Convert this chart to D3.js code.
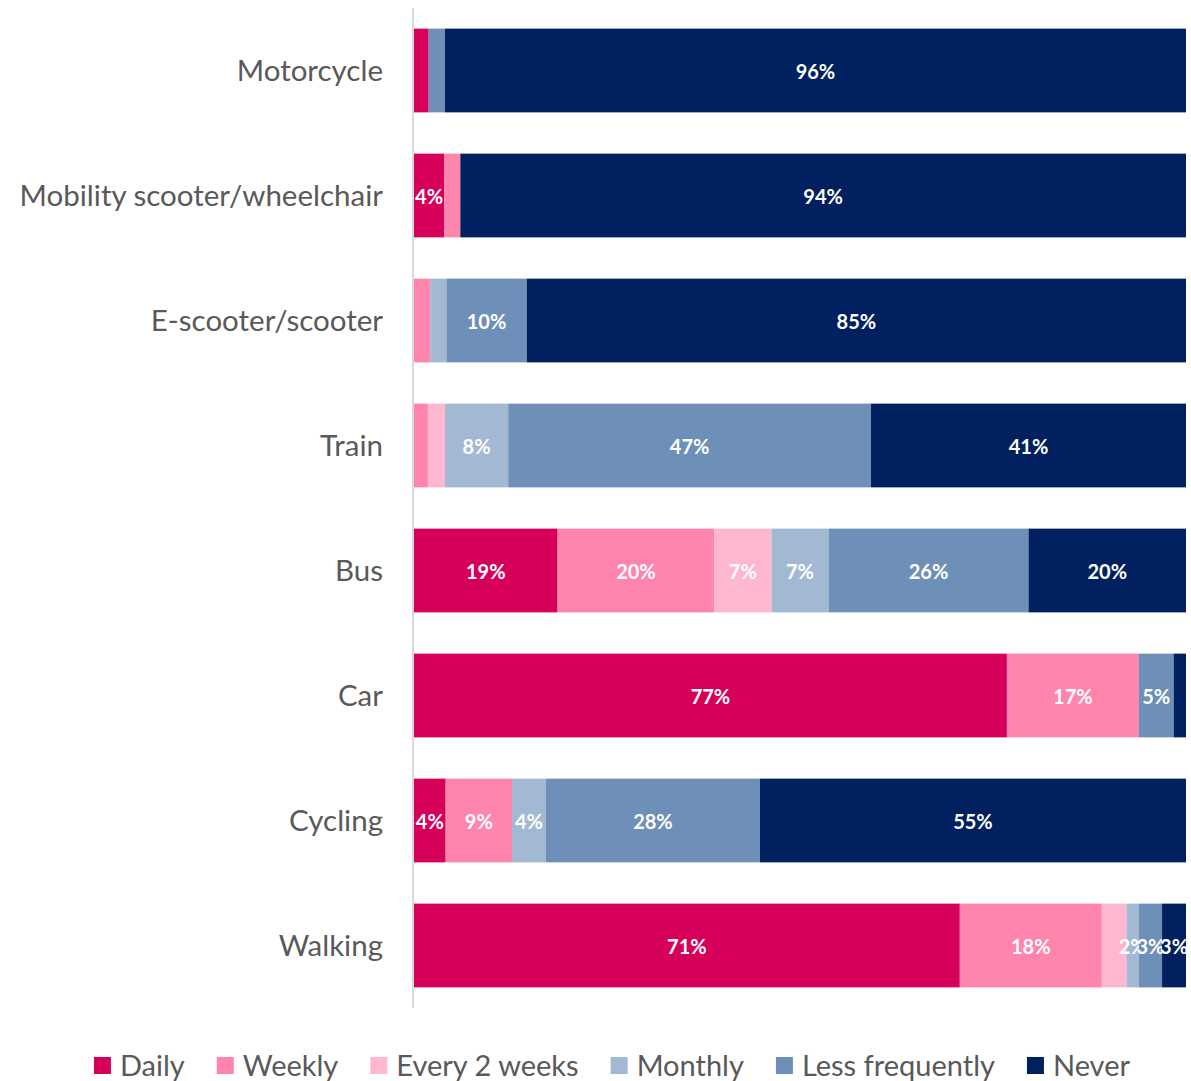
<!DOCTYPE html>
<html>
<head>
<meta charset="utf-8">
<script src="https://cdn.jsdelivr.net/npm/d3@7"></script>
<style>
  body { margin: 0; background: #fff; }
  svg { display: block; font-family: Lato, "Open Sans", sans-serif; }
</style>
</head>
<body>
<svg id="chart" width="1191" height="1081"></svg>
<script>
// transport use frequency, stacked to 100%

const modes = ['Motorcycle', 'Mobility scooter/wheelchair', 'E-scooter/scooter', 'Train', 'Bus', 'Car', 'Cycling', 'Walking'];
const seriesNames = ['Daily', 'Weekly', 'Every 2 weeks', 'Monthly', 'Less frequently', 'Never'];
const colors = ['#D6005A', '#FF85AD', '#FFB6CF', '#A3B8D3', '#6E8FB8', '#002060'];

// one array per series, in the order of modes
const daily     = [1.9, 3.9, 0,   0,    18.6, 76.8, 4.1,  70.7];
const weekly    = [0,   2.1, 2.1, 1.8,  20.3, 17.1, 8.6,  18.4];
const every2    = [0,   0,   0,   2.2,  7.4,  0,    0,    3.2];
const monthly   = [0,   0,   2.1, 8.2,  7.4,  0,    4.4,  1.6];
const lessFreq  = [2.1, 0,   10.4, 47.0, 25.9, 4.5, 27.7, 3.0];
const never     = [96.0, 94.0, 85.4, 40.8, 20.4, 1.6, 55.2, 3.1];

// which segments carry a data label (1 = shown)
const labelDaily   = [0, 1, 0, 0, 1, 1, 1, 1];
const labelWeekly  = [0, 0, 0, 0, 1, 1, 1, 1];
const labelEvery2  = [0, 0, 0, 0, 1, 0, 0, 0];
const labelMonthly = [0, 0, 0, 1, 1, 0, 1, 1];
const labelLess    = [0, 0, 1, 1, 1, 1, 1, 1];
const labelNever   = [1, 1, 1, 1, 1, 0, 1, 1];

const seriesVals = [daily, weekly, every2, monthly, lessFreq, never];
const seriesLabels = [labelDaily, labelWeekly, labelEvery2, labelMonthly, labelLess, labelNever];

const rows = modes.map((m, i) => {
  const r = { mode: m };
  seriesNames.forEach((s, j) => { r[s] = seriesVals[j][i]; r['lab_' + s] = seriesLabels[j][i]; });
  return r;
});

const svg = d3.select('#chart');
const margin = { left: 413, right: 5, top: 8, bottom: 73 };
const W = 1191, H = 1081;

const x = d3.scaleLinear().domain([0, 100]).range([margin.left + 1, W - margin.right]);
const y = d3.scaleBand().domain(modes).range([margin.top, H - margin.bottom]).paddingInner(0.33).paddingOuter(0.165);

const stack = d3.stack().keys(seriesNames);
const stacked = stack(rows);

const layers = svg.append('g').selectAll('g')
  .data(stacked)
  .join('g')
  .attr('fill', (d, i) => colors[i]);

layers.selectAll('rect')
  .data(d => d)
  .join('rect')
  .attr('x', d => x(d[0]))
  .attr('width', d => Math.max(0, x(d[1]) - x(d[0])))
  .attr('y', d => y(d.data.mode))
  .attr('height', y.bandwidth());

// data labels
layers.each(function (layer) {
  d3.select(this).selectAll('text')
    .data(layer.filter(d => d.data['lab_' + layer.key] && d[1] - d[0] > 0))
    .join('text')
    .attr('x', d => (x(d[0]) + x(d[1])) / 2)
    .attr('y', d => y(d.data.mode) + y.bandwidth() / 2 + 1)
    .attr('dy', '0.35em')
    .attr('text-anchor', 'middle')
    .attr('fill', '#fff')
    .attr('font-weight', 'bold')
    .attr('font-size', 20)
    .text(d => Math.round(d[1] - d[0]) + '%');
});

// category axis
const yAxis = svg.append('g')
  .attr('transform', `translate(${margin.left},0)`)
  .call(d3.axisLeft(y).tickSize(0).tickPadding(30));
yAxis.select('.domain').attr('stroke', '#D9D9D9').attr('stroke-width', 2)
  .attr('d', `M0,${margin.top}V${H - margin.bottom}`);
yAxis.selectAll('text')
  .attr('font-size', 29.5)
  .attr('font-family', 'Lato, "Open Sans", sans-serif')
  .attr('fill', '#595959')
  .attr('dy', '0.36em');

// legend
const legend = svg.append('g').attr('transform', 'translate(0,1066)');
const items = legend.selectAll('g')
  .data(seriesNames)
  .join('g');
items.append('rect')
  .attr('y', -9).attr('width', 17).attr('height', 17)
  .attr('fill', (d, i) => colors[i]);
items.append('text')
  .attr('x', 26).attr('dy', '0.36em')
  .attr('font-size', 29)
  .attr('fill', '#595959')
  .text(d => d);

let pos = 0;
const widths = [];
items.each(function () {
  const w = 26 + d3.select(this).select('text').node().getComputedTextLength();
  widths.push(w);
});
const gap = 32;
const total = d3.sum(widths) + gap * (widths.length - 1);
pos = 612 - total / 2;
items.attr('transform', (d, i) => {
  const t = `translate(${pos},0)`;
  pos += widths[i] + gap;
  return t;
});
</script>
</body>
</html>
